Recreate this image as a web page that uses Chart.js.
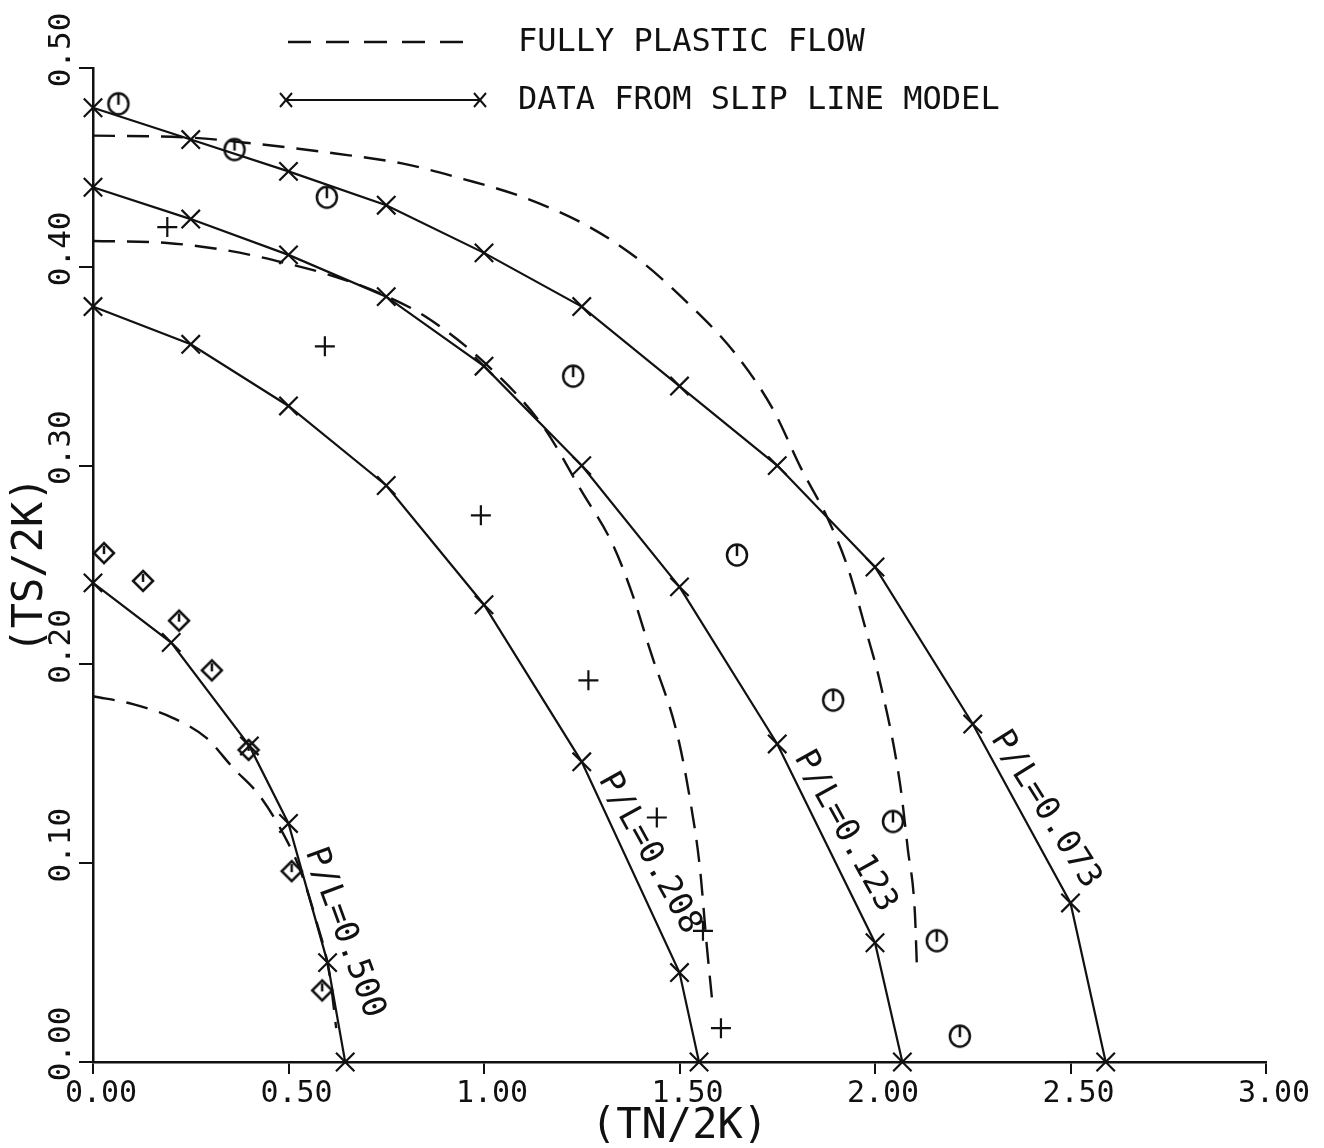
<!DOCTYPE html>
<html>
<head>
<meta charset="utf-8">
<script src="https://cdn.jsdelivr.net/npm/chart.js@4.4.1/dist/chart.umd.min.js"></script>
<style>
  html, body { margin: 0; padding: 0; background: #fff; }
  #wrap { width: 1324px; height: 1148px; }
</style>
</head>
<body>
<div id="wrap"><canvas id="myChart" width="1324" height="1148"></canvas></div>
<script>
// axis ticks
const xTicks = [0, 0.5, 1.0, 1.5, 2.0, 2.5, 3.0];
const xTickLabels = ['0.00', '0.50', '1.00', '1.50', '2.00', '2.50', '3.00'];
const yTicks = [0, 0.1, 0.2, 0.3, 0.4, 0.5];
const yTickLabels = ['0.00', '0.10', '0.20', '0.30', '0.40', '0.50'];

// slip line model (solid lines with x marks)
const slip073X = [0, 0.25, 0.50, 0.75, 1.00, 1.25, 1.50, 1.75, 2.00, 2.25, 2.50, 2.59];
const slip073Y = [0.480, 0.464, 0.448, 0.431, 0.407, 0.380, 0.340, 0.300, 0.249, 0.170, 0.080, 0];
const slip123X = [0, 0.25, 0.50, 0.75, 1.00, 1.25, 1.50, 1.75, 2.00, 2.07];
const slip123Y = [0.440, 0.424, 0.406, 0.385, 0.350, 0.300, 0.239, 0.160, 0.060, 0];
const slip208X = [0, 0.25, 0.50, 0.75, 1.00, 1.25, 1.50, 1.55];
const slip208Y = [0.380, 0.361, 0.330, 0.290, 0.230, 0.151, 0.045, 0];
const slip500X = [0, 0.20, 0.40, 0.50, 0.60, 0.645];
const slip500Y = [0.241, 0.211, 0.159, 0.120, 0.050, 0];

// fully plastic flow (dashed)
const plasticAX = [0, 0.25, 0.41, 0.62, 0.79, 0.95, 1.10, 1.27, 1.40, 1.52, 1.64, 1.74, 1.81, 1.88, 1.93, 1.98, 2.013, 2.064, 2.084, 2.102, 2.107];
const plasticAY = [0.466, 0.465, 0.462, 0.457, 0.452, 0.444, 0.435, 0.420, 0.403, 0.382, 0.357, 0.328, 0.299, 0.273, 0.249, 0.215, 0.191, 0.140, 0.107, 0.075, 0.049];
const plasticBX = [0, 0.19, 0.35, 0.49, 0.62, 0.73, 0.85, 1.00, 1.15, 1.25, 1.33, 1.38, 1.425, 1.494, 1.527, 1.552, 1.570, 1.583];
const plasticBY = [0.413, 0.412, 0.408, 0.402, 0.395, 0.387, 0.375, 0.352, 0.320, 0.287, 0.260, 0.235, 0.207, 0.165, 0.132, 0.098, 0.058, 0.032];
const plasticCX = [0, 0.102, 0.205, 0.290, 0.358, 0.426, 0.486, 0.529, 0.571, 0.605, 0.622];
const plasticCY = [0.184, 0.180, 0.173, 0.163, 0.148, 0.134, 0.115, 0.097, 0.071, 0.044, 0.017];

// loose marks
const circleX = [0.065, 0.362, 0.598, 1.228, 1.647, 1.893, 2.046, 2.158, 2.217];
const circleY = [0.482, 0.459, 0.435, 0.345, 0.255, 0.182, 0.121, 0.061, 0.013];
const plusX = [0.19, 0.593, 0.992, 1.267, 1.442, 1.56, 1.606];
const plusY = [0.420, 0.360, 0.275, 0.192, 0.123, 0.066, 0.017];
const diamondX = [0.028, 0.128, 0.220, 0.304, 0.398, 0.508, 0.586];
const diamondY = [0.256, 0.242, 0.222, 0.197, 0.157, 0.096, 0.036];

// curve names written along the lines
const curveLabels = [
  { text: 'P/L=0.500', x: 0.642, y: 0.065, angle: 70 },
  { text: 'P/L=0.208', x: 1.422, y: 0.105, angle: 61 },
  { text: 'P/L=0.123', x: 1.923, y: 0.116, angle: 61 },
  { text: 'P/L=0.073', x: 2.435, y: 0.127, angle: 58 }
];

const ink = '#111';
const mono = '"DejaVu Sans Mono", "Liberation Mono", monospace';

const pts = (xs, ys) => xs.map((x, i) => ({ x: x, y: ys[i] }));

// circle / diamond with the little tick inside, as the plotter drew them
function markCanvas(kind) {
  const c = document.createElement('canvas');
  c.width = 28; c.height = 28;
  const g = c.getContext('2d');
  g.strokeStyle = ink;
  g.lineWidth = 2.5;
  g.beginPath();
  if (kind === 'circle') {
    g.ellipse(14, 14, 10, 10.5, 0, 0, Math.PI * 2);
  } else {
    g.moveTo(14, 4); g.lineTo(24, 14); g.lineTo(14, 24); g.lineTo(4, 14); g.closePath();
  }
  g.stroke();
  g.beginPath();
  g.moveTo(14, 15);
  g.lineTo(14, kind === 'circle' ? 4 : 7);
  g.stroke();
  return c;
}

const dashed = (label, xs, ys) => ({
  label: label, data: pts(xs, ys), showLine: true, borderColor: ink, borderWidth: 2.4,
  borderDash: [22, 12], pointRadius: 0, cubicInterpolationMode: 'monotone', clip: false
});
const solid = (label, xs, ys) => ({
  label: label, data: pts(xs, ys), showLine: true, borderColor: ink, borderWidth: 2.2, tension: 0,
  pointStyle: 'crossRot', pointRadius: 13, pointBorderWidth: 2.2, pointBorderColor: ink, clip: false
});
const marks = (label, xs, ys, style, r) => ({
  label: label, data: pts(xs, ys), showLine: false, pointStyle: style, pointRadius: r,
  pointBorderWidth: 2.2, pointBorderColor: ink, pointBackgroundColor: 'rgba(0,0,0,0)', clip: false
});

const paperPlugin = {
  id: 'paper',
  beforeDraw(chart) {
    const c = chart.ctx;
    c.save();
    c.fillStyle = '#fff';
    c.fillRect(0, 0, chart.width, chart.height);
    c.restore();
  },
  afterDraw(chart) {
    const c = chart.ctx, xs = chart.scales.x, ys = chart.scales.y;
    c.save();
    c.fillStyle = ink;
    c.strokeStyle = ink;
    c.textAlign = 'center';
    c.textBaseline = 'middle';

    // y tick labels are turned on their side
    c.font = '31px ' + mono;
    yTicks.forEach((v, i) => {
      c.save();
      c.translate(62, ys.getPixelForValue(v) - 18);
      c.rotate(-Math.PI / 2);
      c.fillText(yTickLabels[i], 0, 0);
      c.restore();
    });

    // P/L names along each slip line curve
    c.font = '33px ' + mono;
    curveLabels.forEach(l => {
      c.save();
      c.translate(xs.getPixelForValue(l.x), ys.getPixelForValue(l.y));
      c.rotate(l.angle * Math.PI / 180);
      c.fillText(l.text, 0, 0);
      c.restore();
    });

    // legend in the top band
    c.lineWidth = 2.4;
    c.setLineDash([23, 15]);
    c.beginPath(); c.moveTo(288, 42); c.lineTo(463, 42); c.stroke();
    c.setLineDash([]);
    c.lineWidth = 2;
    c.beginPath(); c.moveTo(286, 100); c.lineTo(480, 100); c.stroke();
    [286, 480].forEach(px => {
      c.beginPath();
      c.moveTo(px - 6, 93); c.lineTo(px + 6, 107);
      c.moveTo(px + 6, 93); c.lineTo(px - 6, 107);
      c.stroke();
    });
    c.textAlign = 'left';
    c.font = '32px ' + mono;
    c.fillText('FULLY PLASTIC FLOW', 518, 43);
    c.fillText('DATA FROM SLIP LINE MODEL', 518, 101);
    c.restore();
  }
};

document.addEventListener('DOMContentLoaded', function() {
  new Chart(document.getElementById('myChart').getContext('2d'), {
    type: 'scatter',
    data: {
      datasets: [
        dashed('FULLY PLASTIC FLOW (upper)', plasticAX, plasticAY),
        dashed('FULLY PLASTIC FLOW (middle)', plasticBX, plasticBY),
        dashed('FULLY PLASTIC FLOW (lower)', plasticCX, plasticCY),
        solid('P/L=0.073', slip073X, slip073Y),
        solid('P/L=0.123', slip123X, slip123Y),
        solid('P/L=0.208', slip208X, slip208Y),
        solid('P/L=0.500', slip500X, slip500Y),
        marks('circles', circleX, circleY, markCanvas('circle'), 10),
        marks('plus', plusX, plusY, 'cross', 10),
        marks('diamonds', diamondX, diamondY, markCanvas('diamond'), 10)
      ]
    },
    options: {
      responsive: false,
      animation: false,
      events: [],
      layout: { padding: { left: 0, top: 68, right: 58, bottom: 0 } },
      plugins: { legend: { display: false }, tooltip: { enabled: false } },
      scales: {
        x: {
          type: 'linear', min: 0, max: 3,
          afterBuildTicks: s => { s.ticks = xTicks.map(v => ({ value: v })); },
          afterFit: s => { s.height = 86; },
          ticks: {
            color: ink, padding: 2, maxRotation: 0, labelOffset: 8,
            font: { family: mono, size: 30 },
            callback: (v, i) => xTickLabels[i]
          },
          grid: { drawOnChartArea: false, drawTicks: true, tickLength: 12, color: ink, lineWidth: 2 },
          border: { display: true, color: ink, width: 2.5 },
          title: {
            display: true, text: '(TN/2K)', color: ink,
            font: { family: mono, size: 42, lineHeight: 1 }, padding: { top: 0, bottom: 0 }
          }
        },
        y: {
          type: 'linear', min: 0, max: 0.5,
          afterBuildTicks: s => { s.ticks = yTicks.map(v => ({ value: v })); },
          afterFit: s => { s.width = 93; },
          ticks: { display: false },
          grid: { drawOnChartArea: false, drawTicks: true, tickLength: 14, color: ink, lineWidth: 2 },
          border: { display: true, color: ink, width: 2.5 },
          title: {
            display: true, text: '(TS/2K)', color: ink,
            font: { family: mono, size: 42, lineHeight: 1 }, padding: { top: 10, bottom: 0 }
          }
        }
      }
    },
    plugins: [paperPlugin]
  });
});
</script>
</body>
</html>
